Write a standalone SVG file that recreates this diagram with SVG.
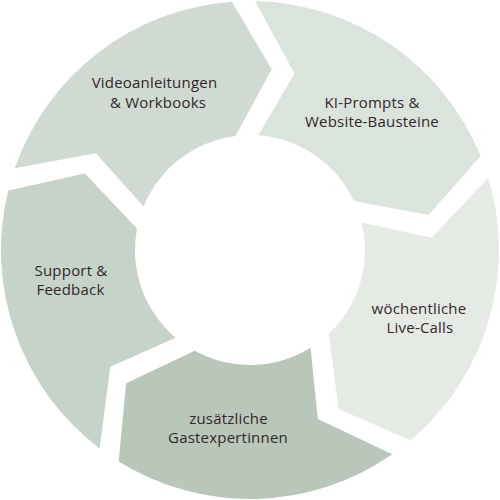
<svg xmlns="http://www.w3.org/2000/svg" width="500" height="500" viewBox="0 0 500 500">
  <defs>
    <path id="seg" d="M248.73,11.51 A249,249 0 0 1 87.82,233.00 L30.42,179.44 L46.28,105.28 A115,115 0 0 0 114.43,11.48 L175.28,49.00 Z"/>
  </defs>
  <style>
    text { font-family: "Open Sans", "Liberation Sans", sans-serif; font-size: 15px; letter-spacing: 0.2px; fill: #33272a; text-anchor: middle; }
  </style>
  <rect width="500" height="500" fill="#ffffff"/>
  <g id="connectors"></g>
  <g id="node-ki">
    <use href="#seg" transform="translate(250,250) rotate(-91.5)" fill="#dbe3dd"/>
    <text x="372" y="108">KI-Prompts &amp;</text>
    <text x="372" y="127">Website-Bausteine</text>
  </g>
  <g id="node-live">
    <use href="#seg" transform="translate(250,250) rotate(-19.5)" fill="#e5eae5"/>
    <text x="419" y="314">wöchentliche</text>
    <text x="420" y="333">Live-Calls</text>
  </g>
  <g id="node-gast">
    <use href="#seg" transform="translate(250,250) rotate(52.5)" fill="#b8c7b9"/>
    <text x="228.5" y="424">zusätzliche</text>
    <text x="228" y="443">Gastexpertinnen</text>
  </g>
  <g id="node-support">
    <use href="#seg" transform="translate(250,250) rotate(124.5)" fill="#c6d3c8"/>
    <text x="71" y="276">Support &amp;</text>
    <text x="70.5" y="295">Feedback</text>
  </g>
  <g id="node-video">
    <use href="#seg" transform="translate(250,250) rotate(196.5)" fill="#d0dad2"/>
    <text x="154.5" y="88">Videoanleitungen</text>
    <text x="158" y="108">&amp; Workbooks</text>
  </g>
</svg>
